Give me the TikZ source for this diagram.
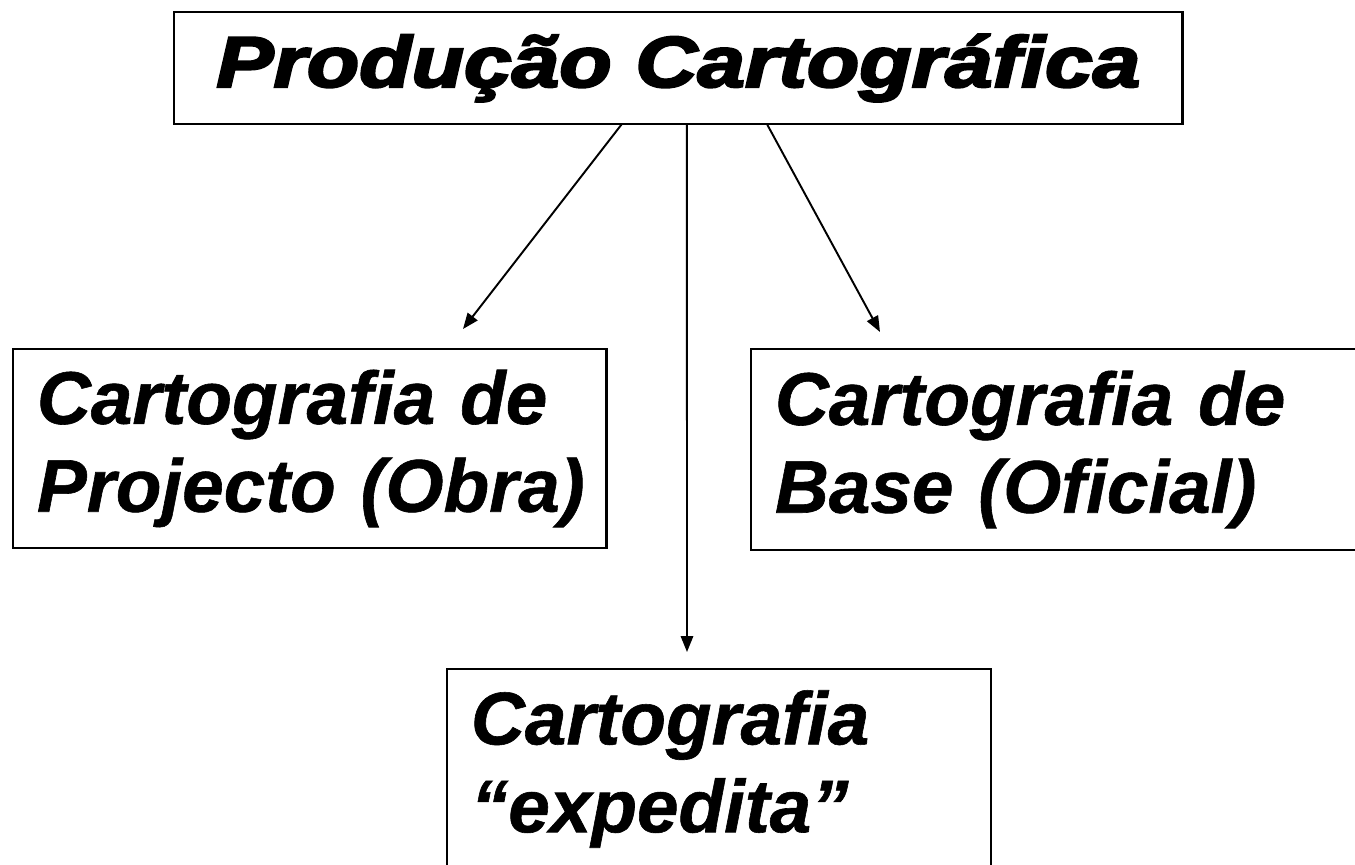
\documentclass[tikz,border=0pt]{standalone}
\usepackage{fontspec}
\setmainfont{Liberation Sans}[BoldItalicFeatures={FakeBold=0.8}]
\newfontfamily\headfont{Liberation Sans}[BoldItalicFeatures={FakeBold=3}]
\usetikzlibrary{arrows.meta, calc, positioning}

\tikzset{
    card/.style={draw, line width=1.6pt, anchor=north west, outer sep=0pt,
        inner xsep=0.48cm, inner ysep=0pt, minimum height=4cm,
        font=\bfseries\itshape\fontsize{42.5}{50}\selectfont},
    kind/.style={card, align=left},
    link/.style={-{Triangle[length=9pt,width=7pt]}, line width=1.1pt},
}

\begin{document}
\begin{tikzpicture}[x=0.02cm, y=-0.02cm]
    \useasboundingbox (0,0) rectangle (1355,865);

    % title box
    \node[card, inner sep=0pt,
        minimum width=20.18cm, minimum height=2.24cm,
        font=\headfont\bfseries\itshape\fontsize{41}{50}\selectfont
    ] (prod) at (174,12) {\scalebox{1.19}[1]{Produção Cartográfica}\hspace{0.72cm}};

    % the three kinds
    \node[kind, text width=10.92cm, minimum height=3.98cm] (obra) at (13,349)
        {Cartografia~de\\Projecto~(Obra)};
    \node[kind, text width=11.44cm, minimum height=4.02cm] (base) at (751,349)
        {Cartografia~de\\Base~(Oficial)};
    \node[kind, text width=9.92cm] (exped) at (447,669)
        {Cartografia\\“expedita”};

    % arrows
    \draw[link] ($(prod.south)+(-56.5,0)$) -- ($(obra.north west)+(450,-20)$);
    \draw[link] ($(prod.south)+(8.5,0)$) -- ($(exped.north west)+(240,-17)$);
    \draw[link] ($(prod.south)+(88.5,0)$) -- ($(base.north west)+(129,-17)$);
\end{tikzpicture}
\end{document}
